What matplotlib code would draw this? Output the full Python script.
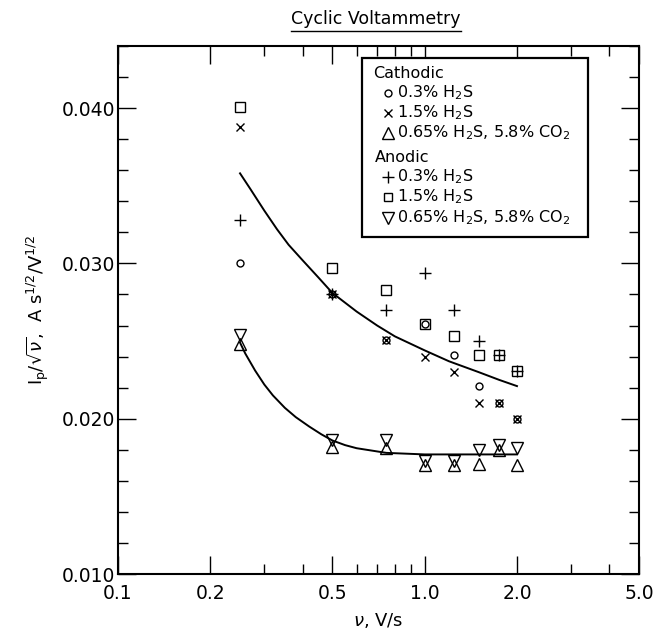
import matplotlib
matplotlib.use("Agg")
import matplotlib.pyplot as plt
from matplotlib.lines import Line2D
from matplotlib.patches import Rectangle
from matplotlib.ticker import FixedLocator, NullFormatter

plt.rcParams['font.family'] = ['DejaVu Sans']
plt.rcParams['mathtext.fontset'] = 'dejavusans'

# scan rates, V/s
nu = [0.25, 0.5, 0.75, 1.0, 1.25, 1.5, 1.75, 2.0]

# Ip/sqrt(nu) values
cath_03 = [0.0300, 0.0280, 0.0251, 0.0261, 0.0241, 0.0221, 0.0210, 0.0200]
cath_15 = [0.0388, 0.0280, 0.0251, 0.0240, 0.0230, 0.0210, 0.0210, 0.0200]
cath_mix = [0.0248, 0.0182, 0.0181, 0.0170, 0.0170, 0.0171, 0.0180, 0.0170]
anod_03 = [0.0328, 0.0280, 0.0270, 0.0294, 0.0270, 0.0250, 0.0241, 0.0231]
anod_15 = [0.0401, 0.0297, 0.0283, 0.0261, 0.0253, 0.0241, 0.0241, 0.0231]
anod_mix = [0.0254, 0.0186, 0.0186, 0.0173, 0.0173, 0.0180, 0.0183, 0.0181]

# drawn trend curves, read point by point
upper_nu = [0.25, 0.27, 0.3, 0.33, 0.36, 0.4, 0.45, 0.5, 0.6, 0.7, 0.8,
            1.0, 1.2, 1.5, 1.75, 2.0]
upper_y = [0.0358, 0.0348, 0.0334, 0.0322, 0.0312, 0.0302, 0.0291, 0.0281,
           0.0269, 0.0260, 0.0253, 0.0244, 0.0237, 0.0230, 0.0225, 0.0221]
lower_nu = [0.25, 0.26, 0.28, 0.30, 0.32, 0.35, 0.38, 0.42, 0.46, 0.5, 0.55,
            0.6, 0.75, 1.0, 1.5, 2.0]
lower_y = [0.0249, 0.0242, 0.0231, 0.0222, 0.0215, 0.0207, 0.0201, 0.0195,
           0.0190, 0.0186, 0.0183, 0.0181, 0.0178, 0.0177, 0.0177, 0.0177]

xticks = [0.1, 0.2, 0.5, 1.0, 2.0, 5.0]
xticklabels = ['0.1', '0.2', '0.5', '1.0', '2.0', '5.0']
xminor = [0.3, 0.4, 0.6, 0.7, 0.8, 0.9, 3.0, 4.0]
yticks = [0.010, 0.020, 0.030, 0.040]
yticklabels = ['0.010', '0.020', '0.030', '0.040']

W, H = 656, 630
fig = plt.figure(figsize=(W / 100, H / 100), dpi=100)
ax = fig.add_axes([118 / W, 1 - 574 / H, 521 / W, 528 / H])


def px(x, y):
    return x / W, 1 - y / H


mk = dict(color='black', linestyle='none', markerfacecolor='none', markeredgewidth=1.0)
ax.plot(nu, cath_03, marker='o', markersize=5, **mk)
ax.plot(nu, cath_15, marker='x', markersize=6, **mk)
ax.plot(nu, cath_mix, marker='^', markersize=9, **mk)
ax.plot(nu, anod_03, marker='+', markersize=8, **mk)
ax.plot(nu, anod_15, marker='s', markersize=7, **mk)
ax.plot(nu, anod_mix, marker='v', markersize=9, **mk)

ax.plot(upper_nu, upper_y, color='black', linewidth=1.4)
ax.plot(lower_nu, lower_y, color='black', linewidth=1.4)

ax.set_xscale('log')
ax.set_xlim(0.1, 5.0)
ax.set_ylim(0.010, 0.044)
ax.xaxis.set_major_locator(FixedLocator(xticks))
ax.set_xticklabels(xticklabels)
ax.xaxis.set_minor_locator(FixedLocator(xminor))
ax.xaxis.set_minor_formatter(NullFormatter())
ax.set_yticks(yticks)
ax.set_yticklabels(yticklabels)
ax.yaxis.set_minor_locator(FixedLocator([0.010 + 0.002 * i for i in range(18)]))

ax.tick_params(which='both', direction='in', top=True, right=True,
               labelsize=13.5, width=1.0)
ax.tick_params(which='major', length=13)
ax.tick_params(which='minor', length=7)
ax.tick_params(axis='x', pad=7)
ax.tick_params(axis='y', pad=2)
for s in ax.spines.values():
    s.set_linewidth(1.5)

ax.set_xlabel(r'$\nu$, V/s', fontsize=13, labelpad=6)
ax.set_ylabel(r'I$_\mathregular{p}$/$\sqrt{\nu}$,  A s$^{1/2}$/V$^{1/2}$',
              fontsize=13, labelpad=8)

# underlined title
title = fig.text(*px(376, 19), 'Cyclic Voltammetry', fontsize=12.5,
                 ha='center', va='center')
fig.canvas.draw()
bb = title.get_window_extent().transformed(fig.transFigure.inverted())
fig.add_artist(Line2D([bb.x0, bb.x1], [bb.y0 - 0.004, bb.y0 - 0.004],
                      color='black', linewidth=1.0))

# legend box
x0, y0 = px(362, 237)
x1, y1 = px(588, 58)
fig.add_artist(Rectangle((x0, y0), x1 - x0, y1 - y0, transform=fig.transFigure,
                         facecolor='white', edgecolor='black', linewidth=1.6))

fs = 11.5
fig.text(*px(373, 73), 'Cathodic', fontsize=fs, va='center')
fig.text(*px(375, 158), 'Anodic', fontsize=fs, va='center')
entries = [
    ('o', 5, 93, r'0.3% H$_2$S'),
    ('x', 6, 113, r'1.5% H$_2$S'),
    ('^', 8, 133, r'0.65% H$_2$S, 5.8% CO$_2$'),
    ('+', 8, 177, r'0.3% H$_2$S'),
    ('s', 6, 197, r'1.5% H$_2$S'),
    ('v', 8, 218, r'0.65% H$_2$S, 5.8% CO$_2$'),
]
for m, size, yy, label in entries:
    mx, my = px(388, yy)
    fig.add_artist(Line2D([mx], [my], marker=m, markersize=size, **mk))
    fig.text(*px(397, yy), label, fontsize=fs, va='center')

fig.savefig('out.png', dpi=100)
